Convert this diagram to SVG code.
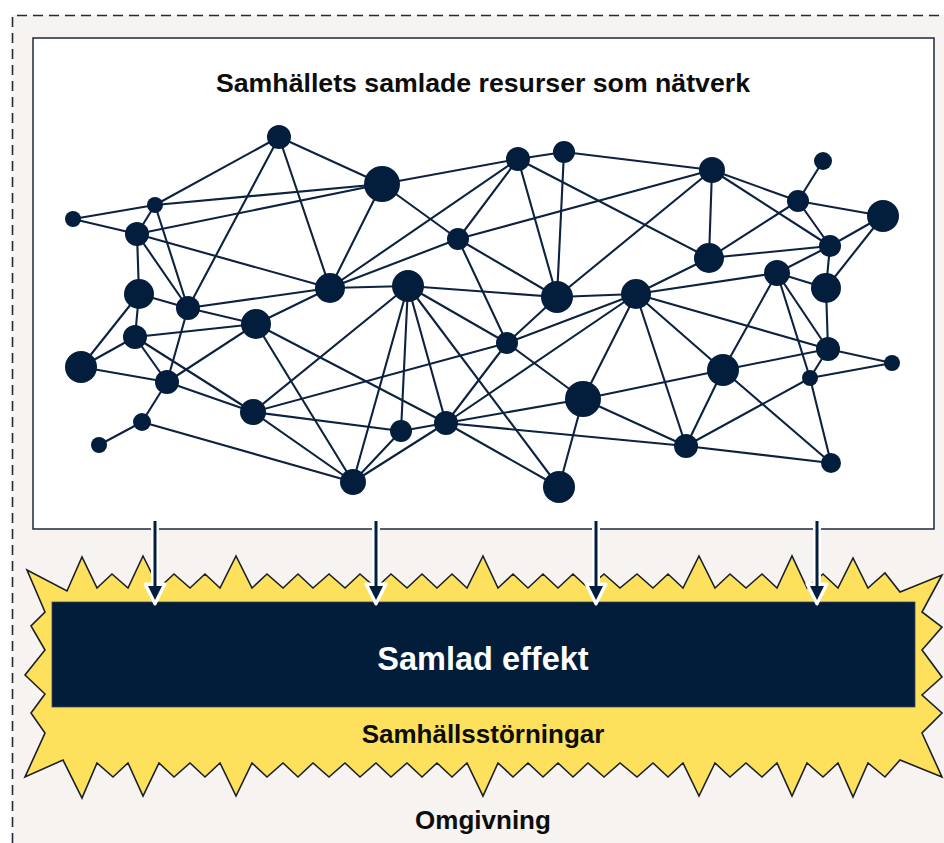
<svg xmlns="http://www.w3.org/2000/svg" width="944" height="843" viewBox="0 0 944 843">
<style>
.edge{stroke:#0c2240;stroke-width:2.1;fill:none;stroke-linecap:round}
.node{fill:#031e3c}
.lbl{font-family:"Liberation Sans",Arial,Helvetica,sans-serif;font-weight:bold;text-anchor:middle}
</style>
<defs>
<g id="arrow">
<line x1="0" y1="521" x2="0" y2="590" stroke="#ffffff" stroke-width="8"/>
<polygon points="-10,584 10,584 0,604" fill="#ffffff" stroke="#ffffff" stroke-width="3" stroke-linejoin="round"/>
<line x1="0" y1="521" x2="0" y2="590" stroke="#031e3c" stroke-width="3"/>
<polygon points="-7,586 7,586 0,600" fill="#031e3c"/>
</g>
</defs>
<rect x="0" y="0" width="944" height="843" fill="#ffffff"/>
<g id="omgivning">
<rect x="12" y="15" width="940" height="835" fill="#f6f3f1"/>
<path d="M12.5,843 V15.5 H944" fill="none" stroke="#1f2a38" stroke-width="1.6" stroke-dasharray="10 6"/>
<text class="lbl" x="483" y="829" font-size="26" fill="#0d0d0d">Omgivning</text>
</g>
<g id="network-box">
<rect x="33" y="38" width="901" height="491" fill="#ffffff" stroke="#1c2a3c" stroke-width="1.5"/>
<text class="lbl" x="483" y="92" font-size="26.7" fill="#0d0d0d">Samhällets samlade resurser som nätverk</text>
</g>
<g id="samhallsstorningar">
<polygon fill="#fde15c" stroke="#1a1f2a" stroke-width="1.6" stroke-linejoin="miter" points="27,570 67,591 82,557 97,588 112,574 128,588 143,556 159,588 174,574 190,588 205,574 220,588 236,556 252,588 267,574 283,588 298,574 313,588 329,574 345,588 360,574 376,588 391,574 407,588 422,574 437,588 452,574 467,588 483,556 498,588 513,574 528,588 543,574 558,588 573,574 588,588 604,574 620,588 637,574 653,588 668,574 683,588 699,556 715,588 730,574 746,588 762,574 777,588 792,556 807,588 823,574 838,588 853,558 868,588 885,573 900,592 942,575 922,612 942,627 922,650 942,677 922,695 942,713 922,733 942,777 900,760 885,777 868,763 853,797 838,763 823,777 807,763 792,796 777,763 762,777 746,763 730,777 715,763 699,796 683,763 668,777 653,763 637,777 620,763 604,777 588,763 573,777 558,763 543,777 528,763 513,777 498,763 483,796 467,763 452,777 437,763 422,777 407,763 391,777 376,763 360,777 345,763 329,777 313,763 298,777 283,763 267,777 252,763 236,796 220,763 205,777 190,763 174,777 159,763 143,796 128,763 113,777 97,763 82,798 63,760 25,777 45,733 31,713 45,694 25,675 45,650 31,626 45,612"/>
<text class="lbl" x="483" y="743" font-size="26" fill="#0d0d0d">Samhällsstörningar</text>
</g>
<g id="samlad-effekt">
<rect x="52" y="602" width="863" height="105" fill="#021d3a" stroke="#3a4a5a" stroke-width="0.8"/>
<text class="lbl" x="483" y="670" font-size="32.5" fill="#ffffff">Samlad effekt</text>
</g>
<g id="connectors">
<g id="edges">
<line class="edge" x1="279" y1="137" x2="155" y2="205"/>
<line class="edge" x1="279" y1="137" x2="382" y2="184"/>
<line class="edge" x1="279" y1="137" x2="188" y2="308"/>
<line class="edge" x1="279" y1="137" x2="330" y2="288"/>
<line class="edge" x1="73" y1="219" x2="155" y2="205"/>
<line class="edge" x1="73" y1="219" x2="137" y2="234"/>
<line class="edge" x1="155" y1="205" x2="137" y2="234"/>
<line class="edge" x1="155" y1="205" x2="382" y2="184"/>
<line class="edge" x1="155" y1="205" x2="188" y2="308"/>
<line class="edge" x1="137" y1="234" x2="382" y2="184"/>
<line class="edge" x1="137" y1="234" x2="139" y2="294"/>
<line class="edge" x1="137" y1="234" x2="188" y2="308"/>
<line class="edge" x1="137" y1="234" x2="330" y2="288"/>
<line class="edge" x1="139" y1="294" x2="188" y2="308"/>
<line class="edge" x1="139" y1="294" x2="135" y2="337"/>
<line class="edge" x1="139" y1="294" x2="81" y2="367"/>
<line class="edge" x1="188" y1="308" x2="330" y2="288"/>
<line class="edge" x1="188" y1="308" x2="256" y2="324"/>
<line class="edge" x1="188" y1="308" x2="167" y2="382"/>
<line class="edge" x1="330" y1="288" x2="256" y2="324"/>
<line class="edge" x1="330" y1="288" x2="382" y2="184"/>
<line class="edge" x1="330" y1="288" x2="518" y2="159"/>
<line class="edge" x1="330" y1="288" x2="458" y2="239"/>
<line class="edge" x1="330" y1="288" x2="408" y2="286"/>
<line class="edge" x1="382" y1="184" x2="518" y2="159"/>
<line class="edge" x1="382" y1="184" x2="458" y2="239"/>
<line class="edge" x1="518" y1="159" x2="564" y2="152"/>
<line class="edge" x1="518" y1="159" x2="458" y2="239"/>
<line class="edge" x1="518" y1="159" x2="557" y2="297"/>
<line class="edge" x1="518" y1="159" x2="709" y2="258"/>
<line class="edge" x1="564" y1="152" x2="557" y2="297"/>
<line class="edge" x1="564" y1="152" x2="712" y2="170"/>
<line class="edge" x1="458" y1="239" x2="712" y2="170"/>
<line class="edge" x1="458" y1="239" x2="557" y2="297"/>
<line class="edge" x1="458" y1="239" x2="507" y2="343"/>
<line class="edge" x1="408" y1="286" x2="557" y2="297"/>
<line class="edge" x1="408" y1="286" x2="507" y2="343"/>
<line class="edge" x1="408" y1="286" x2="559" y2="487"/>
<line class="edge" x1="408" y1="286" x2="446" y2="423"/>
<line class="edge" x1="408" y1="286" x2="401" y2="431"/>
<line class="edge" x1="408" y1="286" x2="353" y2="482"/>
<line class="edge" x1="408" y1="286" x2="253" y2="412"/>
<line class="edge" x1="557" y1="297" x2="636" y2="294"/>
<line class="edge" x1="557" y1="297" x2="712" y2="170"/>
<line class="edge" x1="557" y1="297" x2="507" y2="343"/>
<line class="edge" x1="712" y1="170" x2="709" y2="258"/>
<line class="edge" x1="712" y1="170" x2="798" y2="201"/>
<line class="edge" x1="712" y1="170" x2="830" y2="246"/>
<line class="edge" x1="823" y1="161" x2="798" y2="201"/>
<line class="edge" x1="798" y1="201" x2="883" y2="216"/>
<line class="edge" x1="798" y1="201" x2="709" y2="258"/>
<line class="edge" x1="798" y1="201" x2="830" y2="246"/>
<line class="edge" x1="830" y1="246" x2="883" y2="216"/>
<line class="edge" x1="709" y1="258" x2="830" y2="246"/>
<line class="edge" x1="830" y1="246" x2="826" y2="288"/>
<line class="edge" x1="826" y1="288" x2="883" y2="216"/>
<line class="edge" x1="777" y1="273" x2="830" y2="246"/>
<line class="edge" x1="777" y1="273" x2="826" y2="288"/>
<line class="edge" x1="636" y1="294" x2="709" y2="258"/>
<line class="edge" x1="636" y1="294" x2="777" y2="273"/>
<line class="edge" x1="636" y1="294" x2="828" y2="349"/>
<line class="edge" x1="636" y1="294" x2="723" y2="370"/>
<line class="edge" x1="636" y1="294" x2="686" y2="446"/>
<line class="edge" x1="636" y1="294" x2="583" y2="399"/>
<line class="edge" x1="636" y1="294" x2="446" y2="423"/>
<line class="edge" x1="636" y1="294" x2="507" y2="343"/>
<line class="edge" x1="777" y1="273" x2="723" y2="370"/>
<line class="edge" x1="777" y1="273" x2="810" y2="378"/>
<line class="edge" x1="777" y1="273" x2="828" y2="349"/>
<line class="edge" x1="826" y1="288" x2="828" y2="349"/>
<line class="edge" x1="828" y1="349" x2="892" y2="363"/>
<line class="edge" x1="828" y1="349" x2="810" y2="378"/>
<line class="edge" x1="810" y1="378" x2="892" y2="363"/>
<line class="edge" x1="723" y1="370" x2="828" y2="349"/>
<line class="edge" x1="810" y1="378" x2="831" y2="463"/>
<line class="edge" x1="723" y1="370" x2="831" y2="463"/>
<line class="edge" x1="723" y1="370" x2="686" y2="446"/>
<line class="edge" x1="810" y1="378" x2="686" y2="446"/>
<line class="edge" x1="686" y1="446" x2="831" y2="463"/>
<line class="edge" x1="583" y1="399" x2="723" y2="370"/>
<line class="edge" x1="583" y1="399" x2="686" y2="446"/>
<line class="edge" x1="583" y1="399" x2="559" y2="487"/>
<line class="edge" x1="507" y1="343" x2="583" y2="399"/>
<line class="edge" x1="446" y1="423" x2="583" y2="399"/>
<line class="edge" x1="446" y1="423" x2="686" y2="446"/>
<line class="edge" x1="446" y1="423" x2="559" y2="487"/>
<line class="edge" x1="446" y1="423" x2="401" y2="431"/>
<line class="edge" x1="446" y1="423" x2="353" y2="482"/>
<line class="edge" x1="446" y1="423" x2="256" y2="324"/>
<line class="edge" x1="446" y1="423" x2="507" y2="343"/>
<line class="edge" x1="401" y1="431" x2="353" y2="482"/>
<line class="edge" x1="401" y1="431" x2="253" y2="412"/>
<line class="edge" x1="135" y1="337" x2="256" y2="324"/>
<line class="edge" x1="135" y1="337" x2="167" y2="382"/>
<line class="edge" x1="135" y1="337" x2="253" y2="412"/>
<line class="edge" x1="135" y1="337" x2="81" y2="367"/>
<line class="edge" x1="81" y1="367" x2="167" y2="382"/>
<line class="edge" x1="167" y1="382" x2="142" y2="422"/>
<line class="edge" x1="142" y1="422" x2="99" y2="445"/>
<line class="edge" x1="142" y1="422" x2="353" y2="482"/>
<line class="edge" x1="167" y1="382" x2="256" y2="324"/>
<line class="edge" x1="167" y1="382" x2="253" y2="412"/>
<line class="edge" x1="253" y1="412" x2="507" y2="343"/>
<line class="edge" x1="253" y1="412" x2="353" y2="482"/>
<line class="edge" x1="256" y1="324" x2="353" y2="482"/>
</g>
<g id="arrows">
<use href="#arrow" x="155"/>
<use href="#arrow" x="376"/>
<use href="#arrow" x="596"/>
<use href="#arrow" x="817"/>
</g>
</g>
<g id="n-A"><circle class="node" cx="279" cy="137" r="12"/></g>
<g id="n-B"><circle class="node" cx="382" cy="184" r="18"/></g>
<g id="n-C"><circle class="node" cx="518" cy="159" r="12"/></g>
<g id="n-D"><circle class="node" cx="564" cy="152" r="11"/></g>
<g id="n-E"><circle class="node" cx="712" cy="170" r="13"/></g>
<g id="n-F"><circle class="node" cx="823" cy="161" r="9"/></g>
<g id="n-G"><circle class="node" cx="798" cy="201" r="11"/></g>
<g id="n-H"><circle class="node" cx="883" cy="216" r="16"/></g>
<g id="n-I"><circle class="node" cx="830" cy="246" r="11"/></g>
<g id="n-J"><circle class="node" cx="709" cy="258" r="15"/></g>
<g id="n-K"><circle class="node" cx="777" cy="273" r="13"/></g>
<g id="n-L"><circle class="node" cx="826" cy="288" r="15"/></g>
<g id="n-M"><circle class="node" cx="73" cy="219" r="8"/></g>
<g id="n-N"><circle class="node" cx="155" cy="205" r="8"/></g>
<g id="n-O"><circle class="node" cx="137" cy="234" r="12"/></g>
<g id="n-P"><circle class="node" cx="458" cy="239" r="11"/></g>
<g id="n-Q"><circle class="node" cx="139" cy="294" r="15"/></g>
<g id="n-R"><circle class="node" cx="188" cy="308" r="12"/></g>
<g id="n-S"><circle class="node" cx="330" cy="288" r="15"/></g>
<g id="n-T"><circle class="node" cx="408" cy="286" r="16"/></g>
<g id="n-U"><circle class="node" cx="557" cy="297" r="16"/></g>
<g id="n-V"><circle class="node" cx="636" cy="294" r="15"/></g>
<g id="n-W"><circle class="node" cx="135" cy="337" r="12"/></g>
<g id="n-X"><circle class="node" cx="256" cy="324" r="15"/></g>
<g id="n-Y"><circle class="node" cx="507" cy="343" r="11"/></g>
<g id="n-Z"><circle class="node" cx="81" cy="367" r="16"/></g>
<g id="n-AA"><circle class="node" cx="167" cy="382" r="12"/></g>
<g id="n-AB"><circle class="node" cx="723" cy="370" r="16"/></g>
<g id="n-AC"><circle class="node" cx="828" cy="349" r="12"/></g>
<g id="n-AD"><circle class="node" cx="892" cy="363" r="8"/></g>
<g id="n-AE"><circle class="node" cx="810" cy="378" r="8"/></g>
<g id="n-AF"><circle class="node" cx="583" cy="399" r="18"/></g>
<g id="n-AG"><circle class="node" cx="142" cy="422" r="9"/></g>
<g id="n-AH"><circle class="node" cx="99" cy="445" r="8"/></g>
<g id="n-AI"><circle class="node" cx="253" cy="412" r="13"/></g>
<g id="n-AJ"><circle class="node" cx="401" cy="431" r="11"/></g>
<g id="n-AK"><circle class="node" cx="446" cy="423" r="12"/></g>
<g id="n-AL"><circle class="node" cx="686" cy="446" r="12"/></g>
<g id="n-AM"><circle class="node" cx="831" cy="463" r="10"/></g>
<g id="n-AN"><circle class="node" cx="353" cy="482" r="13"/></g>
<g id="n-AO"><circle class="node" cx="559" cy="487" r="16"/></g>
</svg>
